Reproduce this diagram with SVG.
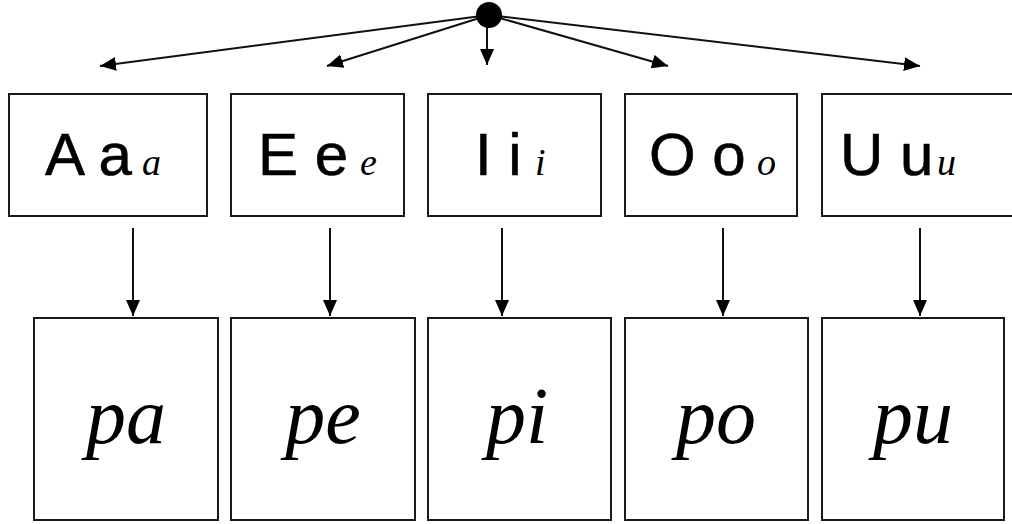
<svg xmlns="http://www.w3.org/2000/svg" width="1012" height="524" viewBox="0 0 1012 524">
<defs>
<style>
.box{fill:#fff;stroke:#1a1a1a;stroke-width:2}
.con{stroke:#111;stroke-width:2;fill:none;marker-end:url(#arr)}
.big{font-family:"Liberation Sans",Arial,sans-serif;font-size:60px;fill:#000;stroke:#000;stroke-width:0.6}
.cur{font-family:"Liberation Serif","DejaVu Serif",serif;font-style:italic;font-size:38px;fill:#000}
.syl{font-family:"Liberation Serif","DejaVu Serif",serif;font-style:italic;font-size:80px;fill:#000;text-anchor:middle}
</style>
<marker id="arr" viewBox="0 0 16 14" refX="16" refY="7" markerWidth="16" markerHeight="14" markerUnits="userSpaceOnUse" orient="auto">
<path d="M0,0 L16,7 L0,14 z" fill="#000"/>
</marker>
</defs>
<rect width="1012" height="524" fill="#fff"/>
<g id="connectors">
<line class="con" x1="489" y1="15" x2="100" y2="66"/>
<line class="con" x1="489" y1="15" x2="327" y2="66"/>
<line class="con" x1="487" y1="27" x2="487" y2="65"/>
<line class="con" x1="489" y1="15" x2="668" y2="66"/>
<line class="con" x1="489" y1="15" x2="920" y2="66"/>
<line class="con" x1="133" y1="228" x2="133" y2="316"/>
<line class="con" x1="330" y1="228" x2="330" y2="316"/>
<line class="con" x1="502" y1="228" x2="502" y2="316"/>
<line class="con" x1="723" y1="228" x2="723" y2="316"/>
<line class="con" x1="920" y1="228" x2="920" y2="316"/>
</g>
<g id="root"><circle cx="489" cy="15" r="13" fill="#000"/></g>
<g id="vA"><rect class="box" x="9" y="94" width="198" height="122"/><text class="big" x="45" y="175">A a</text><text class="cur" x="142" y="175">a</text></g>
<g id="vE"><rect class="box" x="231" y="94" width="173" height="122"/><text class="big" x="258" y="175">E e</text><text class="cur" x="360" y="175">e</text></g>
<g id="vI"><rect class="box" x="428" y="94" width="173" height="122"/><text class="big" x="475" y="175">I i</text><text class="cur" x="535" y="175">i</text></g>
<g id="vO"><rect class="box" x="625" y="94" width="172" height="122"/><text class="big" x="649" y="175">O o</text><text class="cur" x="757" y="175">o</text></g>
<g id="vU"><rect class="box" x="822" y="94" width="200" height="122"/><text class="big" x="840" y="175">U u</text><text class="cur" x="937" y="175">u</text></g>
<g id="pa"><rect class="box" x="34" y="318" width="184" height="202"/><text class="syl" x="126" y="443">pa</text></g>
<g id="pe"><rect class="box" x="231" y="318" width="184" height="202"/><text class="syl" x="323" y="443">pe</text></g>
<g id="pi"><rect class="box" x="428" y="318" width="183" height="202"/><text class="syl" x="517" y="443">pi</text></g>
<g id="po"><rect class="box" x="625" y="318" width="183" height="202"/><text class="syl" x="716" y="443">po</text></g>
<g id="pu"><rect class="box" x="822" y="318" width="182" height="202"/><text class="syl" x="913" y="443">pu</text></g>
</svg>
